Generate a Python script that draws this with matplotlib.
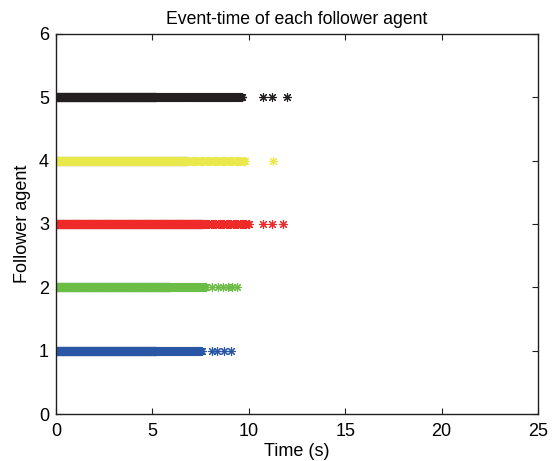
import matplotlib
matplotlib.use("Agg")
import matplotlib.pyplot as plt
import numpy as np

plt.rcParams['font.family'] = ['Liberation Sans', 'DejaVu Sans']

# 每个跟随者的事件时刻
agents = [1, 2, 3, 4, 5]
colors = ['#2a56a6', '#6cbd45', '#ee2b29', '#e9e94c', '#231f20']

# dense segments: (start, end, interval between events)
segments = {
    1: [(0.0, 5.2, 0.01), (5.2, 7.6, 0.04)],
    2: [(0.0, 5.9, 0.01), (5.9, 7.8, 0.04)],
    3: [(0.0, 7.6, 0.01), (7.6, 10.0, 0.06)],
    4: [(0.0, 6.8, 0.01), (6.8, 9.8, 0.06)],
    5: [(0.0, 5.2, 0.01), (5.2, 9.7, 0.03)],
}
# isolated late events
tails = {
    1: [8.1, 8.35, 8.7, 9.1],
    2: [8.1, 8.4, 8.65, 8.9, 9.15, 9.4],
    3: [10.75, 11.2, 11.8],
    4: [11.25],
    5: [10.75, 11.2, 12.0],
}

fig = plt.figure(figsize=(5.52, 4.61), dpi=100)
ax = fig.add_axes([0.1014, 0.1009, 0.8732, 0.8264])

for a, c in zip(agents, colors):
    t = np.concatenate([np.arange(s, e, d) for s, e, d in segments[a]] + [np.array(tails[a])])
    ax.plot(t, np.full_like(t, a), linestyle='none', marker=(8, 2, 0),
            markersize=6.5, markeredgewidth=0.8, color=c)

ax.set_xlim(0, 25)
ax.set_ylim(0, 6)
ax.set_xticks([0, 5, 10, 15, 20, 25])
ax.set_yticks([0, 1, 2, 3, 4, 5, 6])
ax.tick_params(direction='in', top=True, right=True, labelsize=13, length=4,
               color='#231f20', pad=5)
ax.tick_params(axis='x', pad=6)
for sp in ax.spines.values():
    sp.set_color('#231f20')
    sp.set_linewidth(1.0)
ax.set_xlabel('Time (s)', fontsize=13, labelpad=2)
ax.set_ylabel('Follower agent', fontsize=13, labelpad=6)
ax.set_title('Event-time of each follower agent', fontsize=12.7, pad=7)

plt.savefig('out.png', dpi=100)
